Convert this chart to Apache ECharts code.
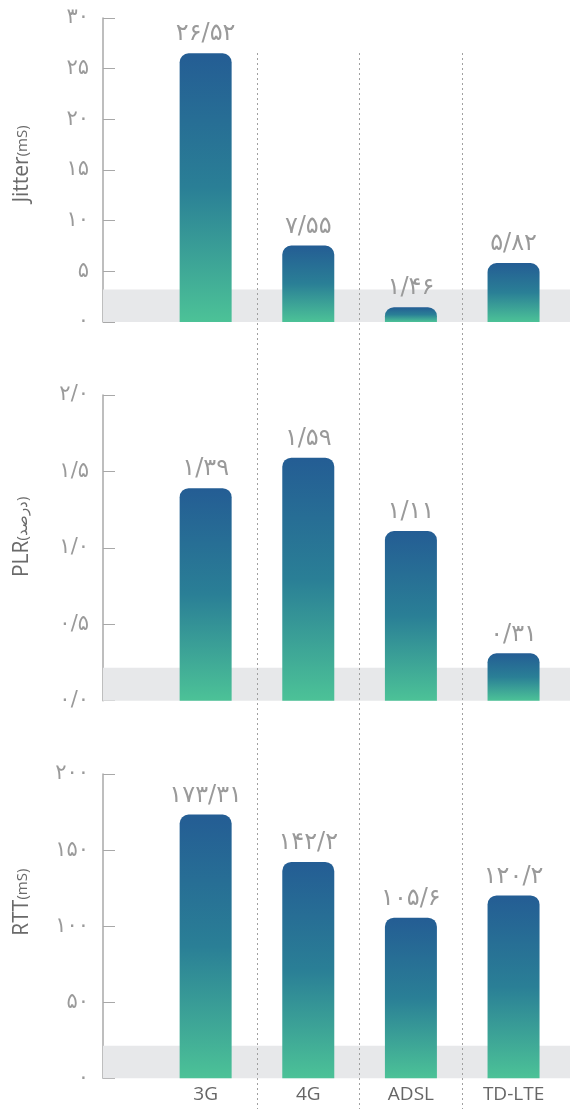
<!DOCTYPE html>
<html>
<head>
<meta charset="utf-8">
<script src="https://cdn.jsdelivr.net/npm/echarts@6/dist/echarts.min.js"></script>
<style>
html,body{margin:0;padding:0;background:#fff;}
#chart{width:570px;height:1109px;}
</style>
</head>
<body>
<div id="chart"></div>
<script>
// ---- data ----
const categories = ['3G', '4G', 'ADSL', 'TD-LTE'];
const jitterValues = [26.52, 7.55, 1.46, 5.82];
const plrValues = [1.39, 1.59, 1.11, 0.31];
const rttValues = [173.31, 142.2, 105.6, 120.2];
const jitterTicks = ['۰', '۵', '۱۰', '۱۵', '۲۰', '۲۵', '۳۰'];
const plrTicks = ['۰/۰', '۰/۵', '۱/۰', '۱/۵', '۲/۰'];
const rttTicks = ['۰', '۵۰', '۱۰۰', '۱۵۰', '۲۰۰'];
const bandLimits = [3.2, 0.216, 21.4];

const faDigits = '۰۱۲۳۴۵۶۷۸۹';
function toFa(v) {
  return String(v).replace(/[0-9]/g, d => faDigits[+d]).replace('.', '/');
}

const FONT = 'DejaVu Sans';
const LABEL_COLOR = '#9a9a9a';

const panels = [
  { values: jitterValues, ticks: jitterTicks, max: 30, interval: 5, band: bandLimits[0],
    name: '{a|Jitter}{b|(mS)}', top: 18, height: 304, namePad: 12 },
  { values: plrValues, ticks: plrTicks, max: 2, interval: 0.5, band: bandLimits[1],
    name: '{a|PLR}{b|(درصد)}', top: 395, height: 305.7, namePad: 22 },
  { values: rttValues, ticks: rttTicks, max: 200, interval: 50, band: bandLimits[2],
    name: '{a|RTT}{b|(mS)}', top: 774, height: 304.3, namePad: 48 }
];

const grid = [], xAxis = [], yAxis = [], series = [];
panels.forEach((p, i) => {
  grid.push({ left: 103, right: 0, top: p.top, height: p.height });
  xAxis.push({
    type: 'value', gridIndex: i, min: 0, max: 4.55, interval: 1,
    axisLine: { show: false }, axisTick: { show: false }, splitLine: { show: false },
    axisLabel: {
      show: i === 2, margin: 7, fontSize: 19, color: '#666', fontFamily: 'Open Sans',
      showMaxLabel: false,
      formatter: v => categories[v - 1] || ''
    }
  });
  yAxis.push({
    type: 'value', gridIndex: i, min: 0, max: p.max, interval: p.interval,
    axisLine: { show: true, lineStyle: { color: '#a8a8a8', width: 1.5 } },
    axisTick: { show: true, inside: true, length: 12, lineStyle: { color: '#a8a8a8', width: 1 } },
    splitLine: { show: false },
    axisLabel: {
      margin: 14, fontSize: 21, color: LABEL_COLOR, fontFamily: FONT,
      formatter: v => p.ticks[Math.round(v / p.interval)]
    },
    name: p.name, nameLocation: 'middle', nameRotate: 90, nameGap: 70,
    nameTextStyle: {
      color: '#6a6a6a', fontFamily: 'Open Sans', padding: [0, 0, 0, p.namePad],
      rich: {
        a: { fontSize: 21, color: '#6a6a6a', fontFamily: 'Open Sans' },
        b: { fontSize: 15, color: '#6a6a6a', fontFamily: 'Open Sans' }
      }
    }
  });
  series.push({
    type: 'bar', xAxisIndex: i, yAxisIndex: i,
    data: p.values.map((v, k) => [k + 1, v]),
    barWidth: 52,
    itemStyle: {
      borderRadius: [9, 9, 0, 0],
      color: new echarts.graphic.LinearGradient(0, 0, 0, 1, [
        { offset: 0, color: '#245d94' },
        { offset: 0.5, color: '#2a7f96' },
        { offset: 1, color: '#4cc297' }
      ])
    },
    label: {
      show: true, position: 'top', distance: 7, fontSize: 24, color: LABEL_COLOR,
      fontFamily: FONT, formatter: d => toFa(d.value[1])
    },
    markArea: {
      silent: true,
      itemStyle: { color: '#e7e8ea' },
      data: [[{ yAxis: 0 }, { yAxis: p.band }]]
    }
  });
});

// overlay grid carrying the dotted category separators
grid.push({ left: 154.3, right: 5.1, top: 53, bottom: 0 });
xAxis.push({
  type: 'category', gridIndex: 3, data: categories, z: 5,
  axisLine: { show: false }, axisTick: { show: false }, axisLabel: { show: false },
  splitLine: { show: true, showMinLine: false, showMaxLine: false,
    lineStyle: { color: '#a0a0a0', type: [2, 3], width: 1 } }
});
yAxis.push({ type: 'value', gridIndex: 3, min: 0, max: 1, show: false });

const chart = echarts.init(document.getElementById('chart'));
chart.setOption({ animation: false, grid, xAxis, yAxis, series });
</script>
</body>
</html>
